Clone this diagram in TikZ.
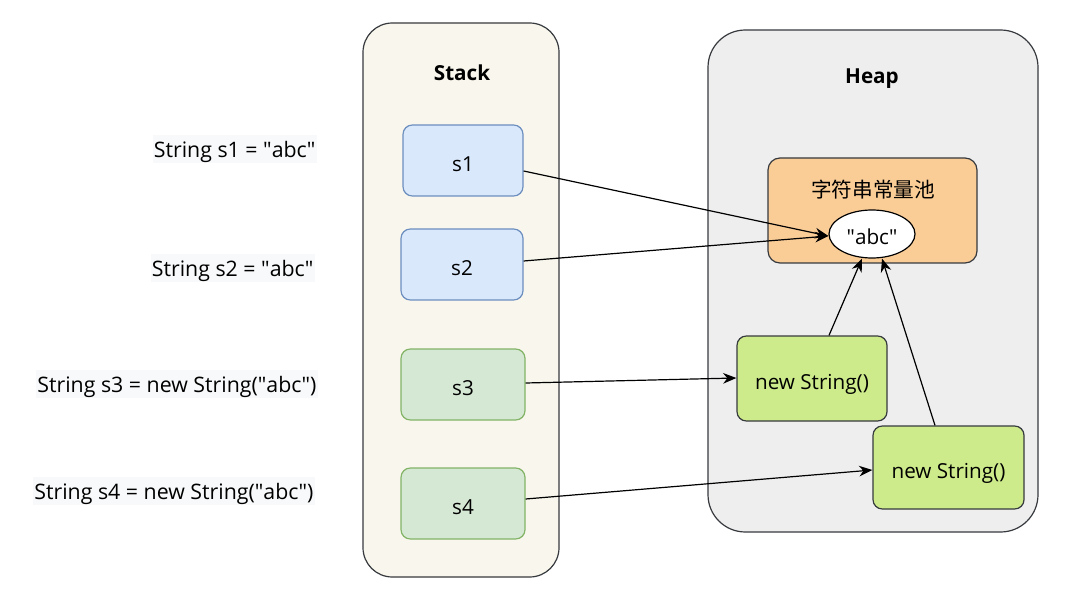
\documentclass[tikz,border=0pt]{standalone}
\usepackage{fontspec}
\setmainfont{Open Sans}
\newfontfamily\cjk{Noto Sans CJK SC}
\usetikzlibrary{arrows.meta,shapes.geometric,calc}
\definecolor{stackfill}{HTML}{F9F7ED}
\definecolor{heapfill}{HTML}{EEEEEE}
\definecolor{darkline}{HTML}{36393D}
\definecolor{bluefill}{HTML}{DAE8FC}
\definecolor{blueline}{HTML}{6C8EBF}
\definecolor{greenfill}{HTML}{D5E8D4}
\definecolor{greenline}{HTML}{82B366}
\definecolor{poolfill}{HTML}{FACC96}
\definecolor{limefill}{HTML}{CDEB8B}
\definecolor{labelbg}{HTML}{F8F9FA}
\newcommand{\qd}{\textquotedbl}
\tikzset{
  px/.style={x=0.75pt,y=-0.75pt},
  container/.style={draw=darkline,line width=0.9pt,rounded corners=22pt},
  lowtext/.style={text height=16.5pt,text depth=0pt},
  varbox/.style={rectangle,rounded corners=7pt,line width=0.9pt,inner sep=0pt,lowtext,font=\fontsize{15.5}{18}\selectfont},
  bluebox/.style={varbox,fill=bluefill,draw=blueline},
  greenbox/.style={varbox,fill=greenfill,draw=greenline},
  limebox/.style={varbox,fill=limefill,draw=darkline,minimum width=112.5pt},
  codelabel/.style={fill=labelbg,inner xsep=1pt,inner ysep=0pt,minimum height=21pt,text height=13pt,text depth=0pt,font=\fontsize{16}{18}\selectfont},
  title/.style={font=\bfseries\fontsize{15.5}{18}\selectfont},
  conn/.style={-{Stealth[length=10pt,width=8pt]},line width=0.9pt},
}
\begin{document}
\begin{tikzpicture}[px]
\useasboundingbox (0,0) rectangle (1078,602);
% containers
\draw[container,fill=stackfill] (363,23) rectangle (559,577);
\draw[container,rounded corners=28pt,fill=heapfill] (708,30) rectangle (1038,532);
\node[title] (stacktitle) at (462,73) {Stack};
\node[title] (heaptitle) at (872,79) {Heap};
% stack boxes
\node[bluebox,minimum width=90pt,minimum height=53.25pt] (s1) at (463,160.5) {s1};
\node[bluebox,minimum width=91.5pt,minimum height=53.25pt] (s2) at (462,264.5) {s2};
\node[greenbox,minimum width=93pt,minimum height=53.25pt] (s3) at (463,384.5) {s3};
\node[greenbox,minimum width=93pt,minimum height=53.25pt] (s4) at (463,503.5) {s4};
% pool
\node[rectangle,rounded corners=9pt,fill=poolfill,draw=darkline,line width=0.9pt,minimum width=156.75pt,minimum height=78.75pt] (pool) at (872.5,210.5) {};
\node[font=\cjk\fontsize{15.5}{18}\selectfont] (pooltitle) at (873,190) {字符串常量池};
\node[ellipse,fill=white,draw=black,line width=0.9pt,minimum width=64.5pt,minimum height=36pt,inner sep=0pt,lowtext,font=\fontsize{15.5}{18}\selectfont] (abc) at (872,234) {\qd abc\qd};
% new String boxes
\node[limebox,minimum height=63.75pt] (ns1) at (812,378.5) {new String()};
\node[limebox,minimum width=113.25pt,minimum height=62.25pt] (ns2) at (948.5,467.5) {new String()};
% labels
\node[codelabel,anchor=east] (l1) at (317,149) {String s1 = \qd abc\qd};
\node[codelabel,anchor=east] (l2) at (315,268) {String s2 = \qd abc\qd};
\node[codelabel,anchor=east] (l3) at (318,384) {String s3 = new String(\qd abc\qd)};
\node[codelabel,anchor=east] (l4) at (315,491) {String s4 = new String(\qd abc\qd)};
% connectors
\draw[conn] ($(s1.east)+(0,10.5)$) -- ($(abc.west)+(0,2)$);
\draw[conn] ($(s2.east)+(0,-3.5)$) -- ($(abc.west)+(0,2)$);
\draw[conn] ($(s3.east)+(0,-1.5)$) -- ($(ns1.west)+(0,-0.5)$);
\draw[conn] ($(s4.east)+(0,-4.5)$) -- ($(ns2.west)+(0,2.5)$);
\draw[conn] ($(ns1.north)+(17,0)$) -- ($(abc.south)+(-10,0)$);
\draw[conn] ($(ns2.north)+(-13.5,0)$) -- ($(abc.south)+(10,0)$);
\end{tikzpicture}
\end{document}
